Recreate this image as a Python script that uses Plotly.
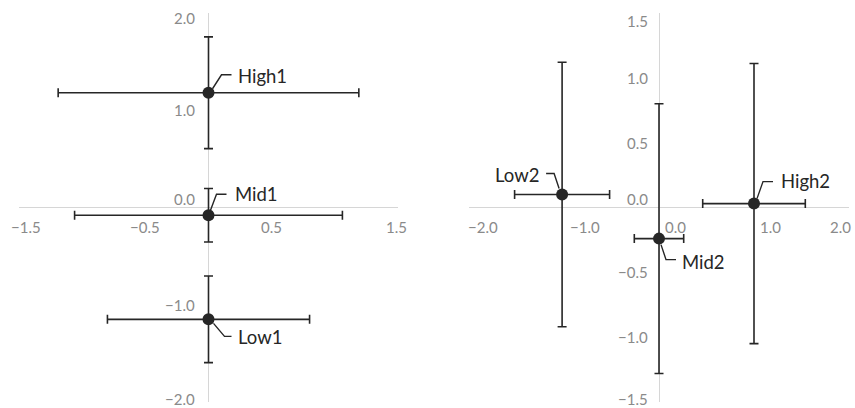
import plotly.graph_objects as go

# ---------------- data ----------------
p1_names = ["High1", "Mid1", "Low1"]
p1_x = [0.0, 0.0, 0.0]
p1_y = [1.18, -0.08, -1.15]
p1_xerr = [1.19, 1.06, 0.80]
p1_yerr = [0.575, 0.275, 0.445]

p2_names = ["Low2", "Mid2", "High2"]
p2_x = [-1.02, 0.0, 1.0]
p2_y = [0.10, -0.24, 0.03]
p2_xerr = [0.50, 0.26, 0.54]
p2_yerr = [1.02, 1.04, 1.08]

p1_xticks = [-1.5, -0.5, 0.5, 1.5]
p1_yticks = [2.0, 1.0, 0.0, -1.0, -2.0]
p2_xticks = [-2.0, -1.0, 0.0, 1.0, 2.0]
p2_yticks = [1.5, 1.0, 0.5, 0.0, -0.5, -1.0, -1.5]

# ---------------- style ----------------
W, H = 855, 408
FONT = "Lato"
TICK_COLOR = "#8a8a8a"
AXIS_COLOR = "#d6d6d6"
INK = "#262626"
TICK_SIZE = 15
LABEL_SIZE = 18.5

# leader-line geometry per label (pixels relative to point, y up):
# (start, bend, end, text anchor offset, text xanchor)
p1_leaders = [
    ((4, 4), (13, 18), (23, 18), (27, 17), "left"),
    ((2, 5), (8, 21), (18, 21), (24, 21), "left"),
    ((5, -4), (16, -17), (23, -17), (27, -18), "left"),
]
p2_leaders = [
    ((-3, 6), (-8, 21), (-16, 21), (-21, 20), "right"),
    ((2, -6), (7, -21), (17, -21), (21, -23), "left"),
    ((3, 5), (9, 22), (19, 22), (25, 23), "left"),
]


def fmt(v):
    return f"{v:.1f}".replace("-", "\u2212")


fig = go.Figure()

for names, xs, ys, xe, ye, xa, ya in [
    (p1_names, p1_x, p1_y, p1_xerr, p1_yerr, "x", "y"),
    (p2_names, p2_x, p2_y, p2_xerr, p2_yerr, "x2", "y2"),
]:
    fig.add_trace(go.Scatter(
        x=xs, y=ys, mode="markers", xaxis=xa, yaxis=ya,
        marker=dict(size=12, color=INK),
        error_x=dict(type="data", array=xe, visible=True, color=INK,
                     thickness=1.6, width=4.5),
        error_y=dict(type="data", array=ye, visible=True, color=INK,
                     thickness=1.6, width=4.5),
        showlegend=False, hoverinfo="skip",
    ))

annotations = []
shapes = []

# data labels + leader lines
for names, xs, ys, leaders, xa, ya in [
    (p1_names, p1_x, p1_y, p1_leaders, "x", "y"),
    (p2_names, p2_x, p2_y, p2_leaders, "x2", "y2"),
]:
    for n, x, y, (s, b, e, t, anc) in zip(names, xs, ys, leaders):
        shapes.append(dict(
            type="path", xref=xa, yref=ya, xsizemode="pixel", ysizemode="pixel",
            xanchor=x, yanchor=y,
            path=f"M{s[0]},{s[1]} L{b[0]},{b[1]} L{e[0]},{e[1]}",
            line=dict(color=INK, width=1.4),
        ))
        annotations.append(dict(
            x=x, y=y, xref=xa, yref=ya, text=n, showarrow=False,
            xanchor=anc, yanchor="middle", xshift=t[0], yshift=t[1],
            font=dict(family=FONT, size=LABEL_SIZE, color=INK),
        ))

# tick labels, panel 1
for i, v in enumerate(p1_xticks):
    sh = 0
    if i == 0:
        sh = 7
    elif i == len(p1_xticks) - 1:
        sh = -2
    annotations.append(dict(
        x=v, y=0, xref="x", yref="y", text=fmt(v), showarrow=False,
        xanchor="center", yanchor="middle", xshift=sh, yshift=-19,
        font=dict(family=FONT, size=TICK_SIZE, color=TICK_COLOR)))
for i, v in enumerate(p1_yticks):
    ys = 0
    if i == 0:
        ys = -5
    elif i == len(p1_yticks) - 1:
        ys = 3
    elif v == 0:
        ys = 8.5
    annotations.append(dict(
        x=0, y=v, xref="x", yref="y", text=fmt(v), showarrow=False,
        xanchor="right", yanchor="middle", xshift=-12, yshift=ys,
        font=dict(family=FONT, size=TICK_SIZE, color=TICK_COLOR)))

# tick labels, panel 2
for i, v in enumerate(p2_xticks):
    if i == len(p2_xticks) - 1:
        anc, sh = "right", 4
    elif i == 0:
        anc, sh = "left", -3
    else:
        anc, sh = "left", 4
    annotations.append(dict(
        x=v, y=0, xref="x2", yref="y2", text=fmt(v), showarrow=False,
        xanchor=anc, yanchor="middle", xshift=sh, yshift=-19,
        font=dict(family=FONT, size=TICK_SIZE, color=TICK_COLOR)))
for i, v in enumerate(p2_yticks):
    ys = 0
    if i == 0:
        ys = -7.5
    elif i == len(p2_yticks) - 1:
        ys = 3
    elif v == 0:
        ys = 8.5
    annotations.append(dict(
        x=0, y=v, xref="x2", yref="y2", text=fmt(v), showarrow=False,
        xanchor="right", yanchor="middle", xshift=-9, yshift=ys,
        font=dict(family=FONT, size=TICK_SIZE, color=TICK_COLOR)))

axis_common = dict(showgrid=False, showticklabels=False, ticks="", showline=False,
                   zeroline=True, zerolinecolor=AXIS_COLOR, zerolinewidth=1.3,
                   fixedrange=True)
ydom = [1 - 402 / H, 1 - 13 / H]

fig.update_layout(
    width=W, height=H,
    margin=dict(l=0, r=0, t=0, b=0),
    paper_bgcolor="white", plot_bgcolor="white",
    font=dict(family=FONT),
    xaxis=dict(domain=[19 / W, 398 / W], range=[-1.5, 1.5], anchor="y", **axis_common),
    yaxis=dict(domain=ydom, range=[-2, 2], anchor="x", **axis_common),
    xaxis2=dict(domain=[469 / W, 849 / W], range=[-2, 2], anchor="y2", **axis_common),
    yaxis2=dict(domain=ydom, range=[-1.5, 1.5], anchor="x2", **axis_common),
    annotations=annotations,
    shapes=shapes,
    showlegend=False,
)

fig.write_html("out.html")
